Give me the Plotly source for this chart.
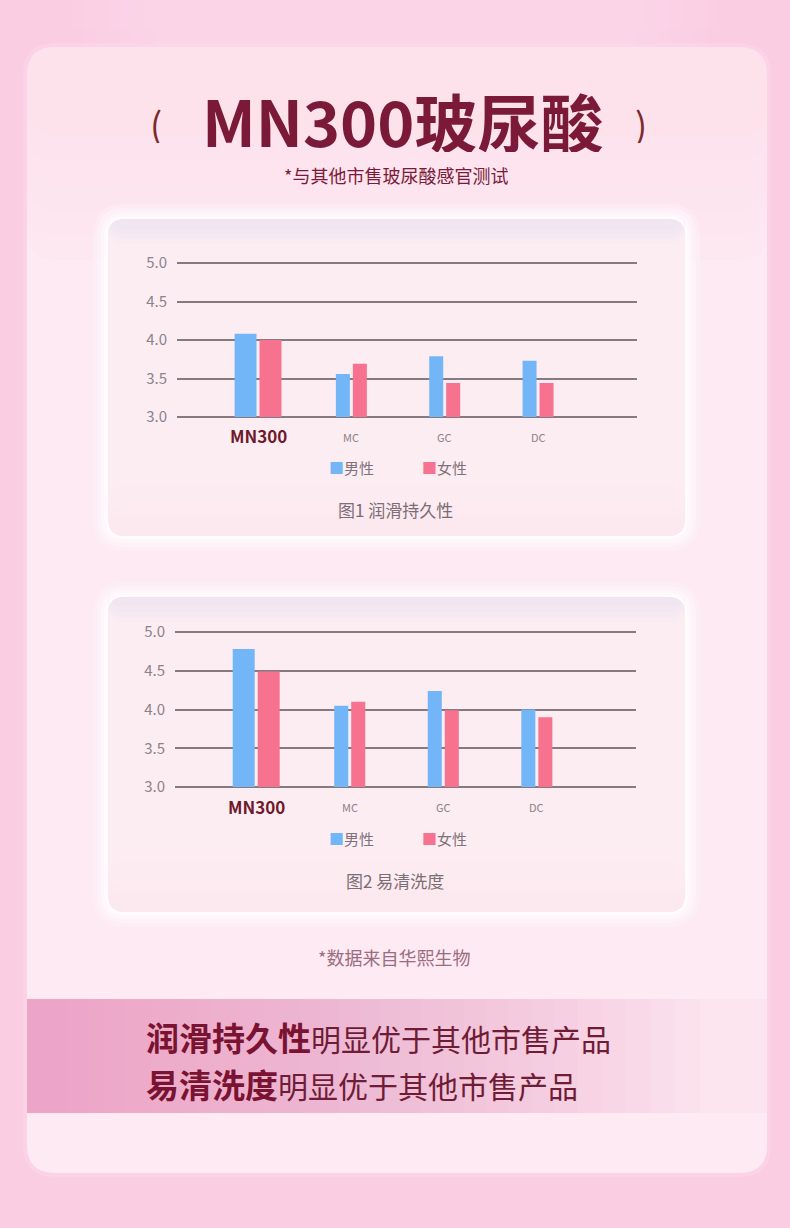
import plotly.graph_objects as go

W, H = 790, 1228

# data
products = ["MN300", "MC", "GC", "DC"]
series_names = ["男性", "女性"]
lube_male = [4.08, 3.56, 3.79, 3.73]
lube_female = [4.0, 3.69, 3.44, 3.44]
clean_male = [4.78, 4.05, 4.24, 4.0]
clean_female = [4.49, 4.1, 3.99, 3.9]
y_ticks = [3.0, 3.5, 4.0, 4.5, 5.0]

BLUE = "#72b6f8"
PINK = "#f6728f"
MAROON = "#7a1a38"
FONT = "Noto Sans CJK SC"


def px(x):
    return x / W


def py(y):
    return 1 - y / H


def rounded(x0, y0, x1, y1, r):
    # rounded rectangle path in paper coords from pixel values
    pts = [
        f"M{px(x0 + r)},{py(y0)}",
        f"L{px(x1 - r)},{py(y0)}",
        f"Q{px(x1)},{py(y0)} {px(x1)},{py(y0 + r)}",
        f"L{px(x1)},{py(y1 - r)}",
        f"Q{px(x1)},{py(y1)} {px(x1 - r)},{py(y1)}",
        f"L{px(x0 + r)},{py(y1)}",
        f"Q{px(x0)},{py(y1)} {px(x0)},{py(y1 - r)}",
        f"L{px(x0)},{py(y0 + r)}",
        f"Q{px(x0)},{py(y0)} {px(x0 + r)},{py(y0)}",
        "Z",
    ]
    return " ".join(pts)


shapes = []


def add_path(path, fill, line="rgba(0,0,0,0)", lw=0):
    shapes.append(dict(type="path", path=path, xref="paper", yref="paper",
                       fillcolor=fill, line=dict(color=line, width=lw), layer="below"))


def add_rect(x0, y0, x1, y1, fill):
    shapes.append(dict(type="rect", xref="paper", yref="paper", x0=px(x0), x1=px(x1),
                       y0=py(y1), y1=py(y0), fillcolor=fill, line=dict(width=0), layer="below"))


# page background: a touch lighter toward the top centre
for k in range(1, 9):
    add_rect(60 + k * 12, 0, 730 - k * 12, k * 30, "rgba(254,228,236,0.08)")

# main card with a soft rim
add_path(rounded(23, 43, 771, 1177, 32), "rgba(253,218,234,0.5)")
add_path(rounded(27, 47, 767, 1173, 28), "#fdeaf2")
for k in range(1, 7):
    add_path(rounded(27, 47, 767, 110 + k * 25, 28), "rgba(252,222,234,0.08)")

# chart panels with soft white glow and a lavender top edge
for top, bottom in [(218, 537), (596, 913)]:
    for g, a in [(14, 0.25), (10, 0.3), (6, 0.4), (3, 0.5)]:
        add_path(rounded(107 - g, top - g, 686 + g, bottom + g, 18 + g), f"rgba(255,252,254,{a})")
    add_path(rounded(107, top, 686, bottom, 18), "#fcedf3", "rgba(255,255,255,0.95)", 1.5)
    for k in range(1, 5):
        add_path(rounded(108, top + 1, 685, top + 6 + k * 5, 17), "rgba(214,210,238,0.07)")
    for k in range(1, 5):
        add_path(rounded(108, bottom - 12 - k * 10, 685, bottom - 1, 17), "rgba(250,224,235,0.06)")

# highlight band, fading to the right (stacked translucent layers)
band_x0, band_x1 = 27, 767
add_rect(band_x0, 999, band_x1, 1113, "rgba(251,220,231,0.3)")
n_layers = 40
for k in range(1, n_layers + 1):
    xb = band_x0 + (700 - band_x0) * (k / n_layers) ** 1.5
    add_rect(band_x0, 999, xb, 1113, "rgba(244,170,192,0.055)")

fig = go.Figure()

bar_w = [0.235, 0.15, 0.15, 0.15]
gap = 0.016
xs = list(range(len(products)))

# pad the value range by a few pixels so the 3.0 and 5.0 grid lines get drawn
y_lo, y_hi, pad = 3.0, 5.0, 0.05

charts = [
    ("x", "y", lube_male, lube_female),
    ("x2", "y2", clean_male, clean_female),
]
for xa, ya, male, female in charts:
    # bars rise from the 3.0 baseline
    fig.add_trace(go.Bar(x=xs, y=[v - y_lo for v in male], base=y_lo, name=series_names[0],
                         marker=dict(color=BLUE, line=dict(width=0)),
                         width=bar_w, offset=[-(w + gap) for w in bar_w],
                         hovertext=[f"{v:.2f}" for v in male], hoverinfo="text",
                         xaxis=xa, yaxis=ya, showlegend=False))
    fig.add_trace(go.Bar(x=xs, y=[v - y_lo for v in female], base=y_lo, name=series_names[1],
                         marker=dict(color=PINK, line=dict(width=0)),
                         width=bar_w, offset=[gap] * len(xs),
                         hovertext=[f"{v:.2f}" for v in female], hoverinfo="text",
                         xaxis=xa, yaxis=ya, showlegend=False))


def y_domain(px_top, px_bottom):
    per = (px_bottom - px_top) / (y_hi - y_lo)
    return [py(px_bottom + pad * per), py(px_top - pad * per)]


yaxis_common = dict(range=[y_lo - pad, y_hi + pad], tickvals=y_ticks,
                    ticktext=[f"{v:.1f}" for v in y_ticks], automargin=False,
                    showgrid=True, gridcolor="#857a7f", gridwidth=2, zeroline=False,
                    showline=False, ticklabelstandoff=9, fixedrange=True,
                    tickfont=dict(family=FONT, size=15, color="#8c8288"))
xaxis_common = dict(range=[-0.868, 4.06], showticklabels=False, showgrid=False,
                    zeroline=False, showline=False, fixedrange=True, automargin=False)

fig.update_layout(
    width=W, height=H,
    margin=dict(l=0, r=0, t=0, b=0, pad=0, autoexpand=False),
    paper_bgcolor="#fbcde2",
    plot_bgcolor="rgba(0,0,0,0)",
    barmode="overlay",
    shapes=shapes,
    showlegend=False,
    xaxis=dict(domain=[px(177), px(637)], anchor="y", **xaxis_common),
    yaxis=dict(domain=y_domain(263, 417), anchor="x", **yaxis_common),
    xaxis2=dict(domain=[px(175), px(636)], anchor="y2", **xaxis_common),
    yaxis2=dict(domain=y_domain(632, 787), anchor="x2", **yaxis_common),
)

ann = []


def text(x, y, s, size, color, anchor="center", ref="paper", box_h=None):
    a = dict(x=x if ref != "paper" else px(x), y=py(y), xref=ref, yref="paper",
             text=s, showarrow=False, xanchor=anchor, yanchor="middle",
             font=dict(family=FONT, size=size, color=color))
    if box_h:
        a["height"] = box_h
    ann.append(a)


# headline
text(402, 119, "<b>MN300玻尿酸</b>", 63, MAROON, box_h=66)
text(156, 123, "(", 36, "#7b2a2e", box_h=40)
text(641, 123, ")", 36, "#7b2a2e", box_h=40)
text(396, 175, "*与其他市售玻尿酸感官测试", 18, MAROON, box_h=22)

# category labels, legends and captions
for xa, y_lab, y_leg, caption, y_cap in [("x", 436, 468, "图1 润滑持久性", 510),
                                         ("x2", 806, 838, "图2 易清洗度", 880)]:
    for i, name in enumerate(products):
        if i == 0:
            text(i, y_lab, f"<b>{name}</b>", 17, "#6e1a2c", ref=xa)
        else:
            text(i, y_lab + 1, name, 11, "#8a8086", ref=xa)
    for j, (nm, col) in enumerate(zip(series_names, [BLUE, PINK])):
        text(327 + j * 93, y_leg, f"<span style='color:{col}'>■</span>{nm}", 15, "#7f7379", anchor="left")
    text(395, y_cap, caption, 17, "#7a6d73")

text(394, 957, "*数据来自华熙生物", 18, "#9a6d80")

# conclusion lines
for y, bold, rest in [(1037, "润滑持久性", "明显优于其他市售产品"), (1084, "易清洗度", "明显优于其他市售产品")]:
    text(144, y, f"<b><span style='font-size:33px'>{bold}</span></b>"
                 f"<span style='font-size:30px;color:#6f1c36'>{rest}</span>",
         30, "#7a1232", anchor="left", box_h=40)

fig.update_layout(annotations=ann)

# drop the default page margin so the figure fills the window exactly
fig.write_html("out.html", config={"displayModeBar": False},
               post_script="document.body.style.margin='0';"
                           "document.body.style.background='#fbcde2';")
